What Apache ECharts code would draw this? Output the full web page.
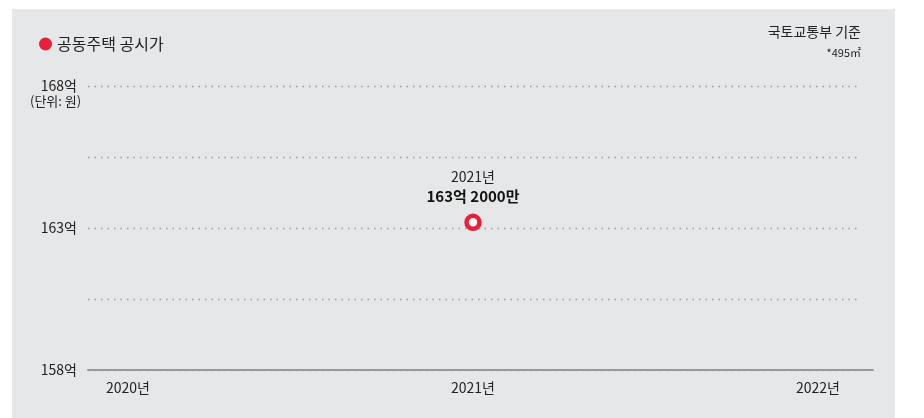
<!DOCTYPE html>
<html><head><meta charset="utf-8">
<script src="https://cdn.jsdelivr.net/npm/echarts@6/dist/echarts.min.js"></script>
<style>html,body{margin:0;padding:0;background:#fff}#c{width:924px;height:418px}</style>
</head><body><div id="c"></div>
<script>
const years = [2020, 2021, 2022];
const yearLabels = ['2020년', '2021년', '2022년'];
const prices = [null, 163.2, null];
const priceLabels = [null, '163억 2000만', null];
const yTicks = [158, 163, 168];
const seriesName = '공동주택 공시가';
const sourceText = '국토교통부 기준';
const areaText = '*495㎡';
const unitText = '(단위: 원)';

const FONT = '"Noto Sans CJK KR", "Noto Sans", sans-serif';
const RED = '#e8203a';
const chart = echarts.init(document.getElementById('c'));
const pts = years.map((y, i) => [y, prices[i]]).filter(p => p[1] != null);
const pad = 40 / 345;
chart.setOption({
  animation: false,
  textStyle: { fontFamily: FONT },
  graphic: [
    { type: 'rect', z: -10, silent: true, shape: { x: 12, y: 9, width: 883, height: 409 }, style: { fill: '#e6e7e9' } },
    { type: 'text', left: 30, top: 95, style: { text: unitText, fill: '#222', font: '13px ' + FONT } },
    { type: 'text', right: 63, top: 25, style: { text: sourceText, fill: '#222', font: '14px ' + FONT, textAlign: 'right' } },
    { type: 'text', right: 63, top: 47, style: { text: areaText, fill: '#222', font: '11px ' + FONT, textAlign: 'right' } }
  ],
  legend: {
    left: 34, top: 31, itemWidth: 13, itemHeight: 13, itemGap: 7,
    icon: 'circle', itemStyle: { color: RED, borderWidth: 0, opacity: 1 },
    textStyle: { fontSize: 16, color: '#222', fontFamily: FONT },
    data: [seriesName]
  },
  grid: [
    { left: 88, right: 66, top: 86, bottom: 48 },
    { left: 88, right: 51, top: 86, bottom: 48 }
  ],
  xAxis: [
    {
      gridIndex: 0, type: 'value', min: years[0] - pad, max: years[2] + pad,
      interval: 1, axisLine: { show: false }, axisTick: { show: false }, splitLine: { show: false },
      axisLabel: {
        margin: 11, fontSize: 14, color: '#222', fontFamily: FONT,
        customValues: years,
        formatter: v => { const i = years.indexOf(Math.round(v)); return i >= 0 && Math.abs(v - Math.round(v)) < 1e-6 ? yearLabels[i] : ''; }
      }
    },
    {
      gridIndex: 1, type: 'value', min: 0, max: 1, show: true,
      axisLine: { show: true, lineStyle: { color: '#999', width: 2 } },
      axisTick: { show: false }, axisLabel: { show: false }, splitLine: { show: false }
    }
  ],
  yAxis: [
    {
      gridIndex: 0, type: 'value', min: 158, max: 168, interval: 2.5,
      axisLine: { show: false }, axisTick: { show: false },
      splitLine: { show: true, lineStyle: { color: '#999', type: [1.5, 5], width: 1.3 } },
      axisLabel: {
        margin: 11, fontSize: 14, color: '#222', fontFamily: FONT,
        formatter: v => yTicks.some(t => Math.abs(t - v) < 1e-6) ? Math.round(v) + '억' : ''
      }
    },
    {
      gridIndex: 1, type: 'value', min: 0, max: 1, show: false
    }
  ],
  series: [{
    name: seriesName, type: 'scatter', xAxisIndex: 0, yAxisIndex: 0,
    data: pts.map(p => ({ value: p, lbl: priceLabels[years.indexOf(p[0])], yr: yearLabels[years.indexOf(p[0])] })),
    symbol: 'circle', symbolSize: 13,
    itemStyle: { color: '#fff', borderColor: RED, borderWidth: 4.5, opacity: 1 },
    label: {
      show: true, position: 'top', distance: 7,
      formatter: p => '{a|' + p.data.yr + '}\n{b|' + p.data.lbl + '}',
      rich: {
        a: { fontSize: 14, color: '#222', lineHeight: 20, align: 'center', fontFamily: FONT },
        b: { fontSize: 15, fontWeight: 'bold', color: '#111', lineHeight: 20, align: 'center', fontFamily: FONT }
      }
    }
  }]
});
</script></body></html>
